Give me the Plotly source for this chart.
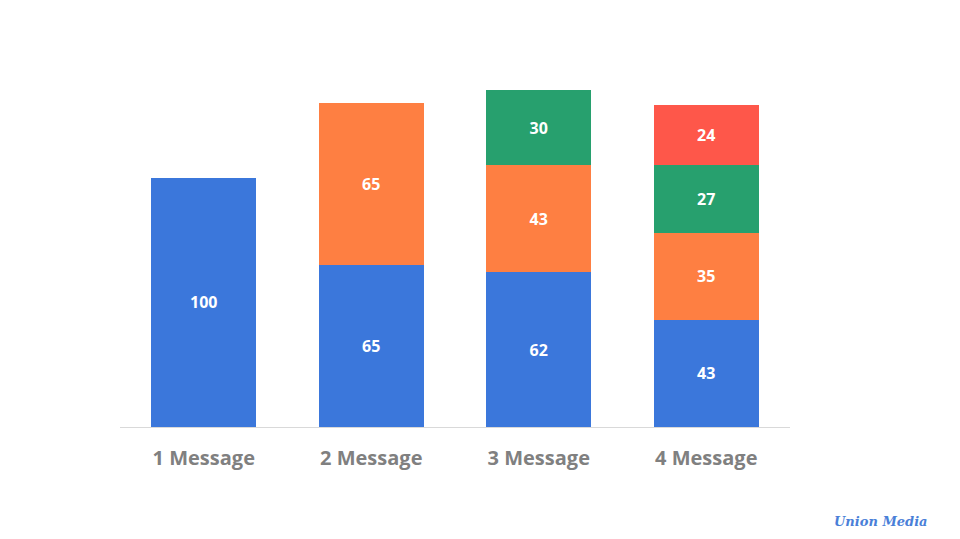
import plotly.graph_objects as go

categories = ["1 Message", "2 Message", "3 Message", "4 Message"]
series_names = ["Part 1", "Part 2", "Part 3", "Part 4"]
part1 = [100, 65, 62, 43]
part2 = [None, 65, 43, 35]
part3 = [None, None, 30, 27]
part4 = [None, None, None, 24]
colors = ["#3b77db", "#fe7f42", "#27a06e", "#fe574a"]

fig = go.Figure()
for name, vals, col in zip(series_names, [part1, part2, part3, part4], colors):
    fig.add_trace(go.Bar(
        x=categories, y=vals, name=name,
        marker=dict(color=col, line=dict(width=0)),
        text=[str(v) if v is not None else "" for v in vals],
        textposition="inside", insidetextanchor="middle",
        textfont=dict(family="Open Sans", size=16, color="white", weight="bold"),
        hoverinfo="skip",
    ))

fig.update_layout(
    barmode="stack",
    bargap=0.373,
    width=960, height=539,
    margin=dict(l=120, r=170, t=78, b=112),
    paper_bgcolor="white", plot_bgcolor="white",
    showlegend=False,
    uniformtext=dict(mode="show", minsize=16),
)
fig.update_xaxes(
    showline=True, linecolor="#d9d9d9", linewidth=1,
    showgrid=False, ticks="outside", ticklen=13, tickcolor="rgba(0,0,0,0)",
    tickfont=dict(family="Open Sans", size=20, color="#808080", weight="bold"),
)
fig.update_yaxes(range=[0, 140], visible=False, showgrid=False)

fig.add_annotation(
    text="<b><i>Union Media</i></b>", xref="paper", yref="paper",
    x=1.0, xshift=140, y=0, yshift=-94, xanchor="right", yanchor="middle",
    showarrow=False,
    font=dict(family="DejaVu Serif", size=13, color="#4a7fd8"),
)

fig.write_html("out.html")
